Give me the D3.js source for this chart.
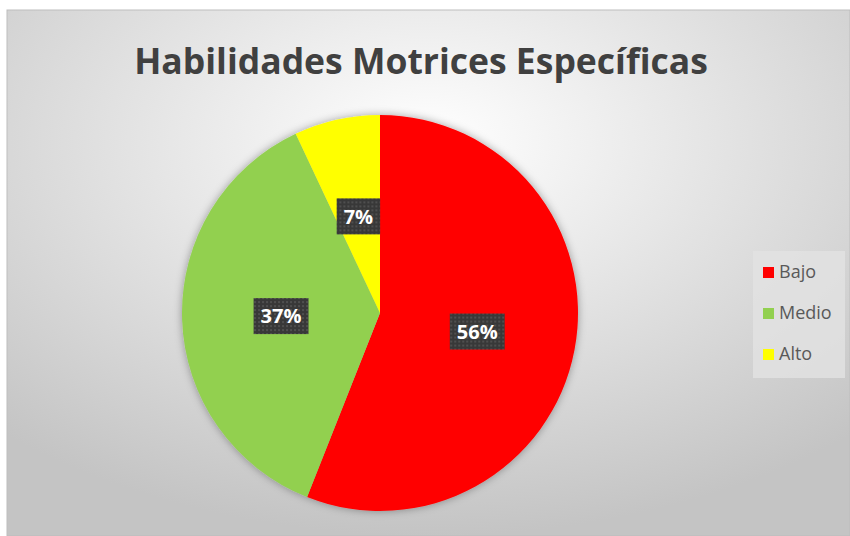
<!DOCTYPE html>
<html>
<head>
<meta charset="utf-8">
<script src="https://cdn.jsdelivr.net/npm/d3@7"></script>
<style>
  body { margin: 0; background: #fff; }
  svg { display: block; }
</style>
</head>
<body>
<svg></svg>
<script>
let categories = ['Bajo', 'Medio', 'Alto']
let values = [56, 37, 7]
let colors = ['#ff0000', '#92d050', '#ffff00']
let title = 'Habilidades Motrices Específicas'

let width = 850
let height = 536
let cx = 380
let cy = 313
let radius = 198

let svg = d3.select('svg').attr('width', width).attr('height', height)
let defs = svg.append('defs')

let bg = defs.append('radialGradient').attr('id', 'bg')
  .attr('cx', '50%').attr('cy', '25%').attr('r', '75%')
bg.append('stop').attr('offset', '0%').attr('stop-color', '#ffffff')
bg.append('stop').attr('offset', '100%').attr('stop-color', '#c4c4c4')

let shadow = defs.append('filter').attr('id', 'shadow')
  .attr('x', '-10%').attr('y', '-10%').attr('width', '120%').attr('height', '120%')
shadow.append('feDropShadow').attr('dx', 0).attr('dy', 0)
  .attr('stdDeviation', 4).attr('flood-color', '#000').attr('flood-opacity', 0.35)

let dots = defs.append('pattern').attr('id', 'dots')
  .attr('width', 4).attr('height', 4).attr('patternUnits', 'userSpaceOnUse')
dots.append('rect').attr('width', 4).attr('height', 4).attr('fill', '#383838')
dots.append('circle').attr('cx', 2).attr('cy', 2).attr('r', 0.9).attr('fill', '#5a5a5a')

// chart area
svg.append('rect').attr('x', 7).attr('y', 10).attr('width', width - 7).attr('height', height - 10)
  .attr('fill', 'url(#bg)').attr('stroke', '#bdbdbd').attr('stroke-width', 1)

svg.append('text')
  .attr('x', 421).attr('y', 74)
  .attr('text-anchor', 'middle')
  .attr('font-family', 'Open Sans, sans-serif')
  .attr('font-weight', 'bold')
  .attr('font-size', 35.5)
  .attr('fill', '#404040')
  .text(title)

let data = categories.map((c, i) => ({ name: c, value: values[i], color: colors[i] }))

let pie = d3.pie().value(d => d.value).sort(null)
let arc = d3.arc().innerRadius(0).outerRadius(radius)

let g = svg.append('g').attr('transform', 'translate(' + cx + ',' + cy + ')')

g.append('g').attr('filter', 'url(#shadow)')
  .selectAll('path')
  .data(pie(data))
  .enter()
  .append('path')
  .attr('d', arc)
  .attr('fill', d => d.data.color)

let labels = g.selectAll('.lbl')
  .data(pie(data))
  .enter()
  .append('g')
  .attr('class', 'lbl')
  .attr('transform', d => 'translate(' + arc.centroid(d) + ')')

labels.each(function (d) {
  let lg = d3.select(this)
  let t = lg.append('text')
    .attr('text-anchor', 'middle')
    .attr('dy', '0.36em')
    .attr('font-family', 'Open Sans, sans-serif')
    .attr('font-weight', 'bold')
    .attr('font-size', 20)
    .attr('fill', '#ffffff')
    .text(d.data.value + '%')
  let bb = t.node().getBBox()
  lg.insert('rect', 'text')
    .attr('x', bb.x - 7).attr('y', -18)
    .attr('width', bb.width + 14).attr('height', 36)
    .attr('fill', 'url(#dots)')
})

// legend
let legend = svg.append('g').attr('transform', 'translate(753,251)')
legend.append('rect').attr('width', 92).attr('height', 127).attr('fill', '#e2e2e2').attr('opacity', 0.8)

let items = legend.selectAll('.item')
  .data(data)
  .enter()
  .append('g')
  .attr('class', 'item')
  .attr('transform', (d, i) => 'translate(10,' + (21 + i * 41) + ')')

items.append('rect').attr('x', 0).attr('y', -5).attr('width', 11).attr('height', 11)
  .attr('fill', d => d.color)
items.append('text')
  .attr('x', 16).attr('dy', '0.35em')
  .attr('font-family', 'Open Sans, sans-serif')
  .attr('font-size', 18)
  .attr('fill', '#595959')
  .text(d => d.name)
</script>
</body>
</html>
